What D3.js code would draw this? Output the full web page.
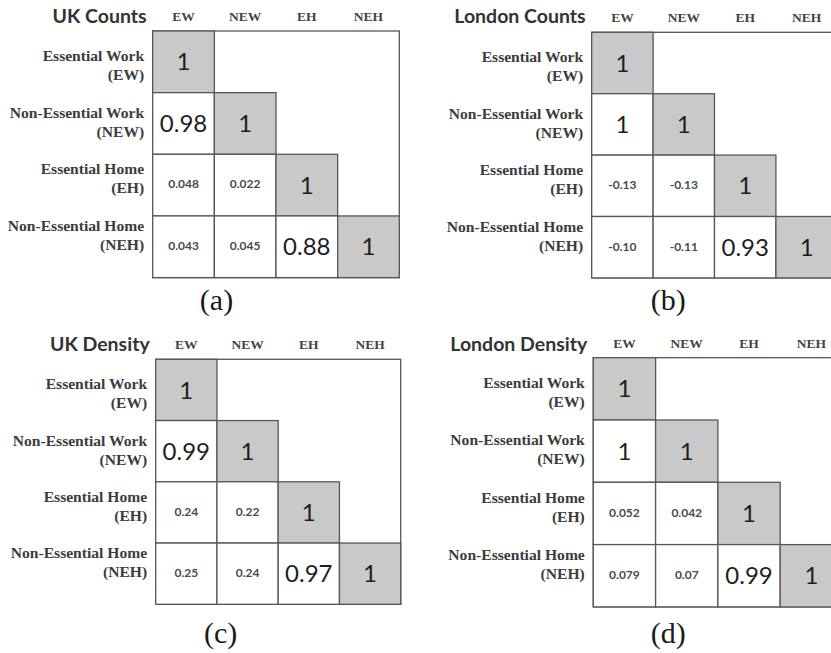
<!DOCTYPE html>
<html>
<head>
<meta charset="utf-8">
<script src="https://cdn.jsdelivr.net/npm/d3@7"></script>
<style>
  html, body { margin: 0; padding: 0; background: #fff; }
  svg { display: block; }
</style>
</head>
<body>
<svg id="chart" width="831" height="653"></svg>
<script>
// ---- Data ----
const categories = ["EW", "NEW", "EH", "NEH"];
const rowLabels = [
  ["Essential Work", "(EW)"],
  ["Non-Essential Work", "(NEW)"],
  ["Essential Home", "(EH)"],
  ["Non-Essential Home", "(NEH)"]
];
const titles = ["UK Counts", "London Counts", "UK Density", "London Density"];
const captions = ["(a)", "(b)", "(c)", "(d)"];

// lower-triangle correlation values (row i, col j <= i), as printed
const ukCounts = [
  ["1"],
  ["0.98", "1"],
  ["0.048", "0.022", "1"],
  ["0.043", "0.045", "0.88", "1"]
];
const londonCounts = [
  ["1"],
  ["1", "1"],
  ["-0.13", "-0.13", "1"],
  ["-0.10", "-0.11", "0.93", "1"]
];
const ukDensity = [
  ["1"],
  ["0.99", "1"],
  ["0.24", "0.22", "1"],
  ["0.25", "0.24", "0.97", "1"]
];
const londonDensity = [
  ["1"],
  ["1", "1"],
  ["0.052", "0.042", "1"],
  ["0.079", "0.07", "0.99", "1"]
];
const matrices = [ukCounts, londonCounts, ukDensity, londonDensity];

// ---- Layout (per panel) ----
const layout = [
  { gx: 152.7, gy: 31.0,  cell: 61.65, headY: 21.0,  titleY: 22.5,  capX: 216.5, capY: 309.5, labStep: 56.7 },
  { gx: 591.7, gy: 32.3,  cell: 61.4,  headY: 21.7,  titleY: 23.3,  capX: 668.3, capY: 309.5, labStep: 56.5 },
  { gx: 155.7, gy: 359.3, cell: 61.25, headY: 349.3, titleY: 351.0, capX: 220.7, capY: 643.0, labStep: 56.3 },
  { gx: 593.3, gy: 357.7, cell: 62.3,  headY: 348.3, titleY: 350.5, capX: 668.3, capY: 643.0, labStep: 57.4 }
];

const svg = d3.select("#chart");
const stroke = "#575757";
const grey = "#c9c9c9";

matrices.forEach((mat, p) => {
  const L = layout[p];
  const size = L.cell * categories.length;
  const x = d3.scaleBand().domain(categories).range([L.gx, L.gx + size]);
  const y = d3.scaleBand().domain(categories).range([L.gy, L.gy + size]);
  const g = svg.append("g");

  // outer frame
  g.append("rect")
    .attr("x", x.range()[0]).attr("y", y.range()[0])
    .attr("width", size).attr("height", size)
    .attr("fill", "#fff").attr("stroke", stroke).attr("stroke-width", 1.3);

  const cells = [];
  mat.forEach((row, i) => row.forEach((v, j) => cells.push({ i, j, v })));

  g.selectAll("rect.cell").data(cells).join("rect")
    .attr("class", "cell")
    .attr("x", d => x(categories[d.j]))
    .attr("y", d => y(categories[d.i]))
    .attr("width", x.bandwidth())
    .attr("height", y.bandwidth())
    .attr("fill", d => d.i === d.j ? grey : "#fff")
    .attr("stroke", stroke)
    .attr("stroke-width", 1.3);

  const isBig = d => Math.abs(+d.v) >= 0.5;
  g.selectAll("text.val").data(cells).join("text")
    .attr("class", "val")
    .attr("x", d => x(categories[d.j]) + x.bandwidth() / 2)
    .attr("y", d => {
      const fs = isBig(d) ? 24 : 12;
      return y(categories[d.i]) + y.bandwidth() / 2 + fs * 0.36 - (isBig(d) ? 0 : 1);
    })
    .attr("text-anchor", "middle")
    .attr("font-family", "Lato, 'Open Sans', sans-serif")
    .attr("font-size", d => isBig(d) ? 24 : 12)
    .attr("font-weight", d => isBig(d) ? 400 : 700)
    .attr("fill", d => isBig(d) ? "#1e1e1e" : "#4a4a4a")
    .text(d => d.v);

  // column headers
  g.selectAll("text.head").data(categories).join("text")
    .attr("class", "head")
    .attr("x", d => x(d) + x.bandwidth() / 2)
    .attr("y", L.headY)
    .attr("text-anchor", "middle")
    .attr("font-family", "'Liberation Serif', 'Times New Roman', serif")
    .attr("font-weight", 700)
    .attr("font-size", 13.5)
    .attr("fill", "#444")
    .text(d => d);

  // row labels
  const lab = g.selectAll("text.row").data(rowLabels).join("text")
    .attr("class", "row")
    .attr("text-anchor", "end")
    .attr("font-family", "'Liberation Serif', 'Times New Roman', serif")
    .attr("font-weight", 700)
    .attr("font-size", 15.6)
    .attr("fill", "#3c3c3c");
  lab.each(function (d, i) {
    const t = d3.select(this);
    const base = L.gy + 30 + i * L.labStep;
    t.append("tspan").attr("x", L.gx - 8.5).attr("y", base).text(d[0]);
    t.append("tspan").attr("x", L.gx - 8.5).attr("y", base + 19).text(d[1]);
  });

  // title
  g.append("text")
    .attr("x", L.gx - 6)
    .attr("y", L.titleY)
    .attr("text-anchor", "end")
    .attr("font-family", "Lato, 'Open Sans', sans-serif")
    .attr("font-weight", 700)
    .attr("font-size", 19.5)
    .attr("fill", "#333")
    .text(titles[p]);

  // caption
  g.append("text")
    .attr("x", L.capX)
    .attr("y", L.capY)
    .attr("text-anchor", "middle")
    .attr("font-family", "'Liberation Serif', 'Times New Roman', serif")
    .attr("font-size", 30)
    .attr("fill", "#1a1a1a")
    .text(captions[p]);
});
</script>
</body>
</html>
